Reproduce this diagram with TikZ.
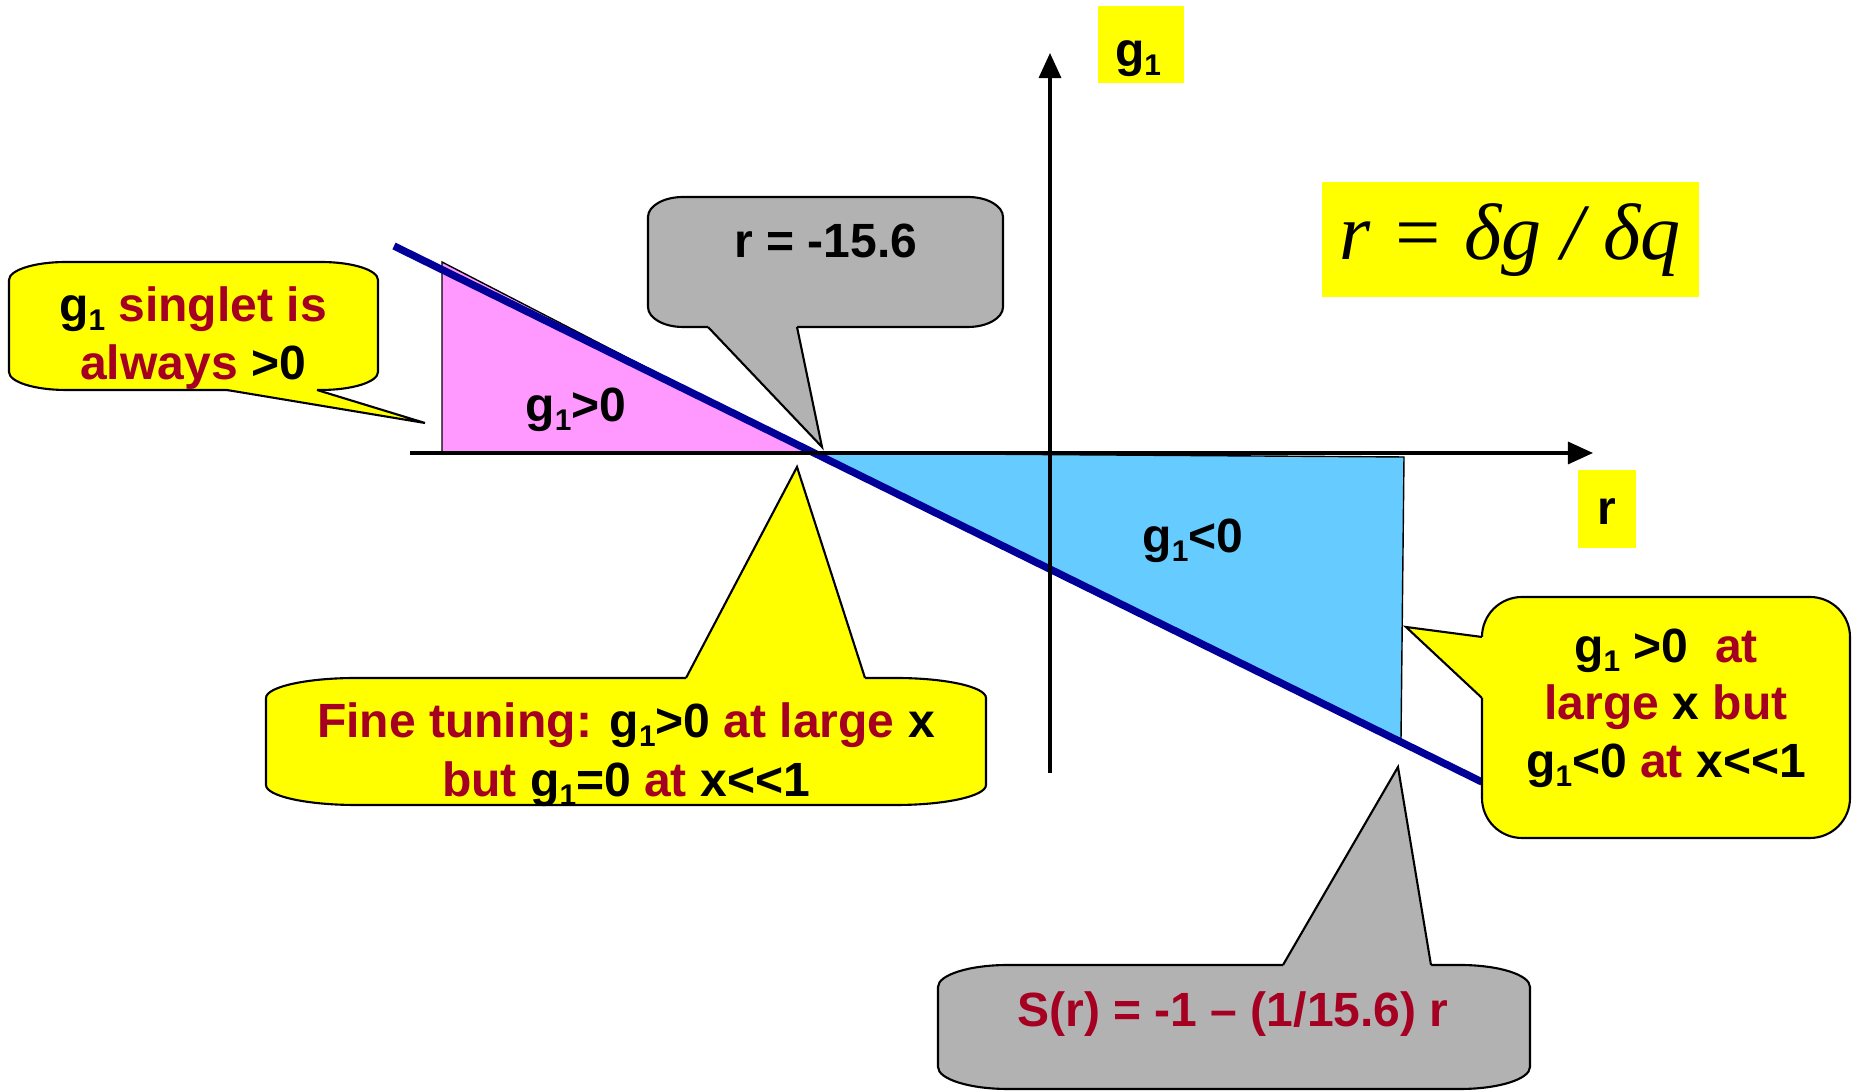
\documentclass[tikz,border=0pt]{standalone}
\usepackage{fontspec}
\setmainfont{Liberation Sans}
\newfontfamily\tnrfont{Liberation Serif}
\usetikzlibrary{arrows.meta}
\definecolor{dred}{HTML}{A50021}
\definecolor{cyel}{HTML}{FFFF00}
\definecolor{cpink}{HTML}{FF99FF}
\definecolor{cblue}{HTML}{66CCFF}
\definecolor{cgray}{HTML}{B2B2B2}
\definecolor{navyline}{HTML}{000099}
\newcommand\rd[1]{\textcolor{dred}{#1}}
\newcommand\gs{g\raisebox{-0.17em}{\fontsize{8.5}{8.5}\selectfont 1}}
\newcommand\llt{<\kern0pt<}
% rounded body with elliptical corners: #1 style, #2 x1, #3 y1, #4 x2, #5 y2, #6 rx, #7 ry
\newcommand\calloutbody[7]{%
\path[#1] ({#2+#6},#3) -- ({#4-#6},#3) .. controls ({#4-0.4477*#6},#3) and (#4,{#3+0.4477*#7}) .. (#4,{#3+#7})
 -- (#4,{#5-#7}) .. controls (#4,{#5-0.4477*#7}) and ({#4-0.4477*#6},#5) .. ({#4-#6},#5)
 -- ({#2+#6},#5) .. controls ({#2+0.4477*#6},#5) and (#2,{#5-0.4477*#7}) .. (#2,{#5-#7})
 -- (#2,{#3+#7}) .. controls (#2,{#3+0.4477*#7}) and ({#2+0.4477*#6},#3) .. ({#2+#6},#3) -- cycle;}
\begin{document}
\begin{tikzpicture}[x=0.01cm,y=-0.01cm,
  txt/.style={font=\fontsize{13.66}{16.5}\selectfont\bfseries, inner sep=0pt, anchor=base},
  box/.style={line width=0.6pt, draw=black},
  axis/.style={line width=0.9pt, -{Triangle[length=0.25cm,width=0.22cm]}},
  thin/.style={line width=0.4pt, draw=black}]
\useasboundingbox (0,0) rectangle (1856,1092);

% shaded regions
\path[fill=cpink, thin] (442,262) -- (442,453) -- (812,453) -- cycle;
\path[fill=cblue, thin] (812,453) -- (1404,457) -- (1401,740) -- cycle;

% S(r) line
\coordinate (sl) at (394,246);
\coordinate (sr) at (1482,782);
\draw[navyline, line width=2.1pt] (sl) -- (sr);

% axes
\coordinate (hs) at (410,453);
\coordinate (he) at (1593,453);
\coordinate (vs) at (1050,773);
\coordinate (ve) at (1050,53);
\draw[axis] (hs) -- (he);
\draw[axis] (vs) -- (ve);

% axis labels
\fill[cyel] (1098,6) rectangle (1184,83);
\node[txt] (g1lab) at (1138,67) {\gs};
\fill[cyel] (1578,470) rectangle (1636,548);
\node[txt] (rlab) at (1607,525) {r};
\fill[cyel] (1322,182) rectangle (1699,297);
\node[inner sep=0pt, anchor=base, font=\tnrfont\itshape\fontsize{22.76}{27}\selectfont] (formula) at (1510,260) {r = δg / δq};

% region labels
\node[txt] (pos) at (576,422) {\gs>0};
\node[txt] (neg) at (1193,553) {\gs<0};

% callout 1: g1 singlet
\calloutbody{fill=cyel, box}{9}{262}{378}{390}{57}{18}
\fill[cyel] (227,385) -- (227,390) -- (425,423) -- (317,390) -- (317,385) -- cycle;
\draw[line width=0.6pt] (227,390) -- (425,423) -- (317,390);
\node[txt] (c1a) at (193,322) {\gs{} \rd{singlet is}};
\node[txt] (c1b) at (193,380) {\rd{always} >0};

% callout 2: r = -15.6
\calloutbody{fill=cgray, box}{648}{197}{1003}{327}{35}{20}
\fill[cgray] (708,322) -- (708,327) -- (822,447) -- (797,327) -- (797,322) -- cycle;
\draw[line width=0.6pt] (708,327) -- (822,447) -- (797,327);
\node[txt] (c2) at (826,258) {r = -15.6};

% callout 3: fine tuning
\calloutbody{fill=cyel, box}{266}{678}{986}{805}{90}{20}
\fill[cyel] (686,683) -- (686,678) -- (797,467) -- (865,678) -- (865,683) -- cycle;
\draw[line width=0.6pt] (686,678) -- (797,467) -- (865,678);
\node[txt] (c3a) at (626,738) {\rd{Fine tuning:} \gs>0 \rd{at large} x};
\node[txt] (c3b) at (626,797) {\rd{but} \gs=0 \rd{at} x\llt1};

% callout 4: right
\calloutbody{fill=cyel, box}{1482}{597}{1850}{838}{40}{40}
\fill[cyel] (1487,637) -- (1482,637) -- (1406,627) -- (1482,698) -- (1487,698) -- cycle;
\draw[line width=0.6pt] (1482,637) -- (1406,627) -- (1482,698);
\node[txt] (c4a) at (1666,663) {\gs{} >0\ \ \rd{at}};
\node[txt] (c4b) at (1666,720) {\rd{large} x \rd{but}};
\node[txt] (c4c) at (1666,778) {\gs<0 \rd{at} x\llt1};

% callout 5: S(r)
\calloutbody{fill=cgray, box}{938}{965}{1530}{1089}{70}{22}
\fill[cgray] (1283,970) -- (1283,965) -- (1398,767) -- (1431,965) -- (1431,970) -- cycle;
\draw[line width=0.6pt] (1283,965) -- (1398,767) -- (1431,965);
\node[txt] (c5) at (1233,1027) {\rd{S(r) = -1 – (1/15.6) r}};
\end{tikzpicture}
\end{document}
